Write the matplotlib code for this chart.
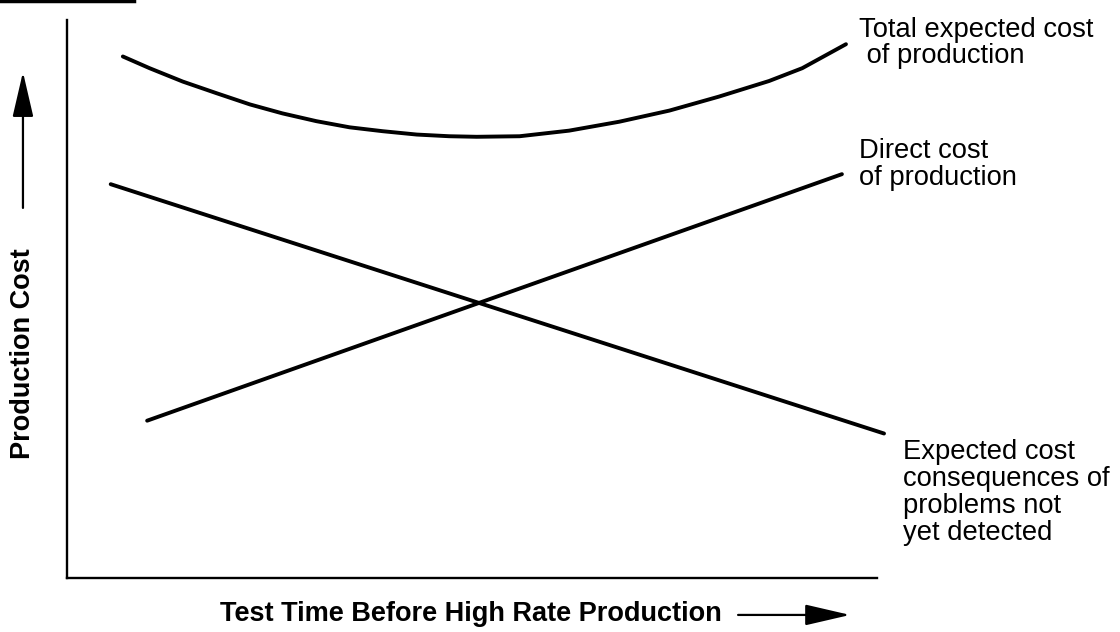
import matplotlib
matplotlib.use('Agg')
import matplotlib.pyplot as plt
from matplotlib.lines import Line2D
from matplotlib.patches import FancyArrowPatch

plt.rcParams['font.family'] = ['Liberation Sans', 'DejaVu Sans']

# ============================================
# DATOS (unidades arbitrarias, 0-10)
# ============================================
total_x = [0.69, 1.02, 1.43, 1.85, 2.26, 2.66, 3.08, 3.49, 3.90, 4.32,
           4.72, 5.06, 5.59, 6.20, 6.82, 7.44, 8.05, 8.67, 9.08, 9.62]
total_y = [9.35, 9.14, 8.90, 8.69, 8.49, 8.33, 8.19, 8.08, 8.01, 7.95,
           7.92, 7.91, 7.92, 8.02, 8.18, 8.38, 8.63, 8.91, 9.14, 9.57]

direct_x = [0.99, 9.57]
direct_y = [2.82, 7.24]

undetected_x = [0.54, 10.09]
undetected_y = [7.06, 2.59]

label_total = "Total expected cost\n of production"
label_direct = "Direct cost\nof production"
label_undetected = "Expected cost\nconsequences of\nproblems not\nyet detected"
xlabel = "Test Time Before High Rate Production"
ylabel = "Production Cost"

# ============================================
# FIGURA
# ============================================
fig = plt.figure(figsize=(11.2, 6.32), dpi=100)
ax = fig.add_axes([0.0598, 0.0855, 0.723, 0.8825])

lw = 2.8
for xs, ys in [(total_x, total_y), (direct_x, direct_y), (undetected_x, undetected_y)]:
    ax.plot(xs, ys, color='black', lw=lw, clip_on=False,
            solid_capstyle='round', solid_joinstyle='round')

ax.set_xlim(0, 10)
ax.set_ylim(0, 10)
ax.set_xticks([])
ax.set_yticks([])
for s in ['top', 'right']:
    ax.spines[s].set_visible(False)
for s in ['left', 'bottom']:
    ax.spines[s].set_linewidth(1.7)

# etiquetas de las curvas
ax.text(9.78, 10.05, label_total, fontsize=19.7, va='top', ha='left', linespacing=0.98, clip_on=False)
ax.text(9.78, 7.88, label_direct, fontsize=19.7, va='top', ha='left', linespacing=1.02, clip_on=False)
ax.text(10.33, 2.50, label_undetected, fontsize=19.7, va='top', ha='left', linespacing=1.06, clip_on=False)

# etiquetas de ejes con flechas
fig.text(0.4205, 0.029, xlabel, fontsize=19.5, fontweight='bold', ha='center', va='center')
fig.text(0.0205, 0.441, ylabel, fontsize=19.5, fontweight='bold', ha='center', va='center', rotation=90)

arrow = dict(arrowstyle='-|>,head_length=2.8,head_width=0.65', color='black', lw=1.6,
             mutation_scale=10, shrinkA=0, shrinkB=0, transform=fig.transFigure)
fig.add_artist(FancyArrowPatch((0.659, 0.027), (0.759, 0.027), **arrow))
fig.add_artist(FancyArrowPatch((0.0205, 0.671), (0.0205, 0.886), **arrow))

# borde del escaneo
fig.add_artist(Line2D([0, 0.12], [0.998, 0.998], color='black', lw=2.5))

fig.savefig('out.png', dpi=100)
